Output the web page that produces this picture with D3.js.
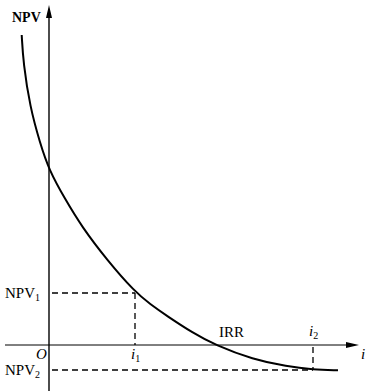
<html lang="en">
  <head>
    <meta charset="utf-8">
    <script src="https://d3js.org/d3.v7.js"></script>
    <style>
      body { margin: 0; background: #fff; }
      text { font-family: "Liberation Serif", "DejaVu Serif", serif; fill: #000; }
    </style>
  </head>
  <body>
    <svg id="npv" width="372" height="391"></svg>
    <script>
      // interest rate (%) and NPV
      var rates = [-2.73, -2.57, -1.9, -0.9, 0, 1.6, 3.3, 5.8, 8.6, 10.1, 11.8, 14.4, 16.6, 20.4, 23.8, 26.4, 28.9];
      var npvs  = [310, 282, 238, 202, 175, 146, 118, 85, 53, 41, 29, 12, 0, -14.5, -21.5, -24.5, -25.3];

      var i1 = 8.6, npv1 = 52;
      var i2 = 26.4, npv2 = -25;
      var irr = 16.6;

      var svg = d3.select("svg#npv");

      var x = d3.scaleLinear().domain([0, 30]).range([49, 349]);
      var y = d3.scaleLinear().domain([-40, 340]).range([385, 5]);

      var data = rates.map((r, k) => ({i: r, v: npvs[k]}));

      var ink = "#000";

      // axes
      svg.append("line")
        .attr("x1", x(0)).attr("x2", x(0))
        .attr("y1", 391).attr("y2", 14)
        .attr("stroke", ink).attr("stroke-width", 1.4);
      svg.append("path")
        .attr("d", `M${x(0)},5 L${x(0) - 3},18 L${x(0) + 3},18 Z`)
        .attr("fill", ink);

      svg.append("line")
        .attr("x1", 5).attr("x2", 350)
        .attr("y1", y(0)).attr("y2", y(0))
        .attr("stroke", ink).attr("stroke-width", 1);
      svg.append("path")
        .attr("d", `M359,${y(0)} L346,${y(0) - 3} L346,${y(0) + 3} Z`)
        .attr("fill", ink);

      // dashed guides
      var dash = "6,4";
      function guide(x1, y1, x2, y2) {
        svg.append("line")
          .attr("x1", x1).attr("y1", y1)
          .attr("x2", x2).attr("y2", y2)
          .attr("stroke", ink).attr("stroke-width", 1.3)
          .attr("stroke-dasharray", dash);
      }
      guide(x(0) + 3, y(npv1), x(i1), y(npv1));
      guide(x(i1), y(npv1), x(i1), y(0));
      guide(x(0) + 3, y(npv2), x(i2), y(npv2));
      guide(x(i2), y(0) + 2, x(i2), y(npv2));

      // NPV curve (smoothed through the read points)
      var line = d3.line()
        .x(d => x(d.i))
        .y(d => y(d.v))
        .curve(d3.curveBasis);

      svg.append("path")
        .datum(data)
        .attr("d", line)
        .attr("fill", "none")
        .attr("stroke", ink)
        .attr("stroke-width", 2);

      // labels
      svg.append("text")
        .attr("x", 12).attr("y", 22)
        .attr("font-size", 14).attr("font-weight", "bold")
        .text("NPV");

      var l1 = svg.append("text").attr("x", 5).attr("y", y(npv1) + 5).attr("font-size", 15);
      l1.append("tspan").text("NPV");
      l1.append("tspan").attr("font-size", 10).attr("dy", 3).text("1");

      var l2 = svg.append("text").attr("x", 5).attr("y", y(npv2) + 5).attr("font-size", 15);
      l2.append("tspan").text("NPV");
      l2.append("tspan").attr("font-size", 10).attr("dy", 3).text("2");

      svg.append("text")
        .attr("x", x(0) - 13).attr("y", y(0) + 14)
        .attr("font-size", 15).attr("font-style", "italic")
        .text("O");

      var t1 = svg.append("text").attr("x", x(i1) - 4).attr("y", y(0) + 14)
        .attr("font-size", 15).attr("font-style", "italic");
      t1.append("tspan").text("i");
      t1.append("tspan").attr("font-size", 10).attr("font-style", "normal").attr("dy", 3).text("1");

      var t2 = svg.append("text").attr("x", x(i2) - 4).attr("y", y(0) - 9)
        .attr("font-size", 15).attr("font-style", "italic");
      t2.append("tspan").text("i");
      t2.append("tspan").attr("font-size", 10).attr("font-style", "normal").attr("dy", 3).text("2");

      svg.append("text")
        .attr("x", x(irr) + 4).attr("y", y(0) - 8)
        .attr("font-size", 15)
        .text("IRR");

      svg.append("text")
        .attr("x", 361).attr("y", y(0) + 14)
        .attr("font-size", 15).attr("font-style", "italic")
        .text("i");
    </script>
  </body>
</html>
